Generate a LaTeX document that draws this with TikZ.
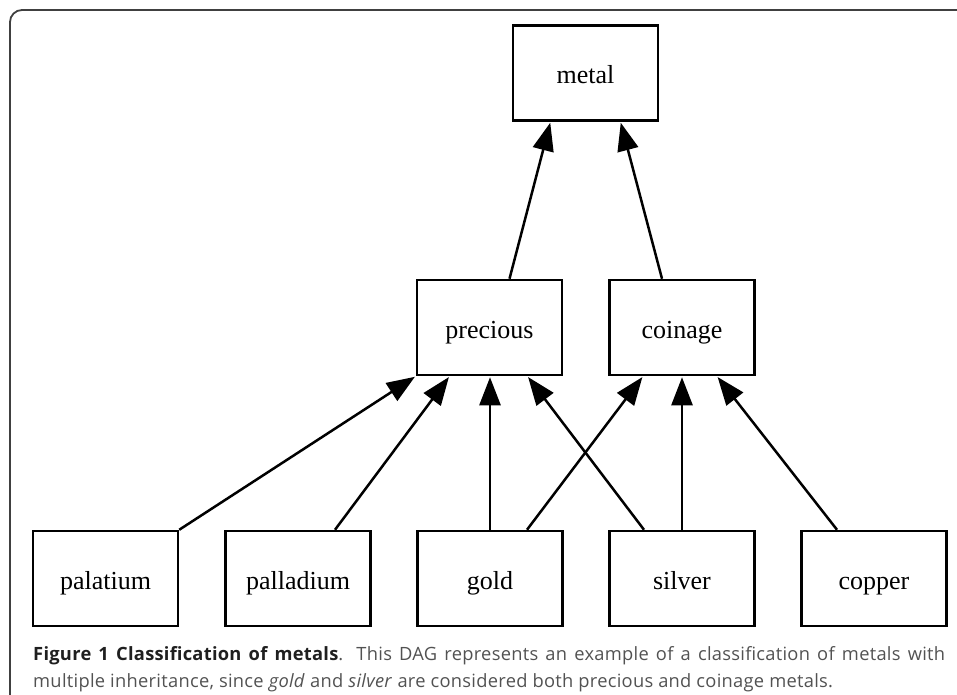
\documentclass[tikz,border=0pt]{standalone}
\usepackage{fontspec}
\setmainfont{Liberation Serif}
\newfontfamily\capfont[LetterSpace=1.5]{Open Sans}
\usetikzlibrary{arrows.meta, positioning, calc}

\begin{document}
\begin{tikzpicture}[
  x=1pt, y=-1pt,
  metalbox/.style={draw, rectangle, line width=2.5pt, minimum width=145pt, minimum height=95pt, inner sep=0pt, text height=22pt, text depth=0pt, font=\fontsize{26}{30}\selectfont},
  isa/.style={-{Triangle[length=28pt, width=21pt]}, line width=2.5pt, shorten >=1pt},
  captext/.style={anchor=base west, text width=912pt, align=justify, inner sep=0pt, font=\capfont\fontsize{18.3}{27.5}\selectfont, text=black!68}
]
\useasboundingbox (0,0) rectangle (957,695);

% frame
\draw[line width=1.8pt, black!75, rounded corners=12pt] (10,695) -- (10,10) -- (957,10);

% nodes
\node[metalbox] (metal)    at (585.5,73)  {metal};
\node[metalbox] (precious) at (489.5,327.5) {precious};
\node[metalbox] (coinage)  at (682,327.5)   {coinage};
\node[metalbox] (palatium)  at (105.5,578.5) {palatium};
\node[metalbox] (palladium) at (298,578.5)   {palladium};
\node[metalbox] (gold)      at (490,578.5)   {gold};
\node[metalbox] (silver)    at (682,578.5)   {silver};
\node[metalbox] (copper)    at (874,578.5)   {copper};

% edges
\draw[isa] ([xshift=20pt]precious.north) -- ([xshift=-35pt]metal.south);
\draw[isa] ([xshift=-20pt]coinage.north) -- ([xshift=35pt]metal.south);

\draw[isa] (palatium.north east) -- (precious.south west);
\draw[isa] ([xshift=37pt]palladium.north) -- ([xshift=-40pt]precious.south);
\draw[isa] (gold.north) -- (gold.north |- precious.south);
\draw[isa] ([xshift=-38pt]silver.north) -- ([xshift=38pt]precious.south);

\draw[isa] ([xshift=37pt]gold.north) -- ([xshift=-39pt]coinage.south);
\draw[isa] (silver.north) -- (coinage.south);
\draw[isa] ([xshift=-37pt]copper.north) -- ([xshift=35pt]coinage.south);

% caption
\node[captext] (caption) at (33,660) {{\bfseries\color{black!88}Figure 1 Classification of metals}. This DAG represents an example of a classification of metals with\linebreak multiple inheritance, since \textit{gold} and \textit{silver} are considered both precious and coinage metals.};

\end{tikzpicture}
\end{document}
